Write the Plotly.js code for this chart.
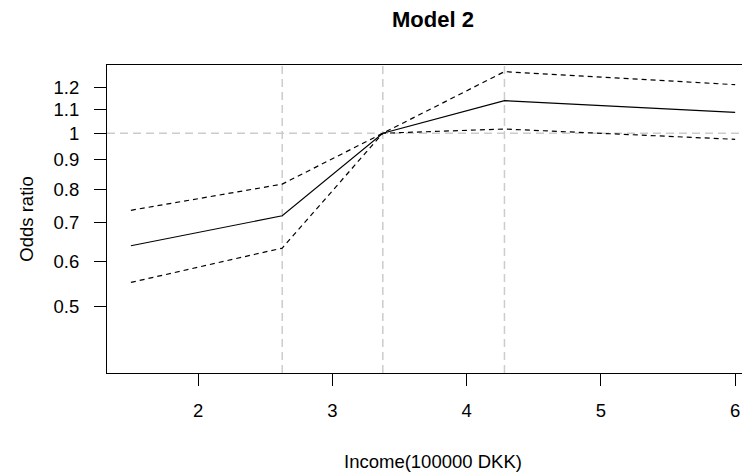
<!DOCTYPE html>
<html>
<head>
<meta charset="utf-8">
<script src="https://cdn.plot.ly/plotly-3.0.1.min.js"></script>
<style>html,body{margin:0;padding:0;background:#fff;}#chart{width:742px;height:474px;}</style>
</head>
<body>
<div id="chart"></div>
<script>
// Income (100000 DKK) at which the curves are evaluated
const income = [1.5, 2.627, 3.376, 4.282, 6.0];
// Odds ratio estimate and 95% confidence limits
const oddsRatio = [0.638, 0.719, 1.0, 1.139, 1.087];
const upperCI   = [0.735, 0.816, 1.0, 1.279, 1.214];
const lowerCI   = [0.551, 0.632, 1.0, 1.017, 0.976];
// Knot positions (vertical reference lines) and reference odds ratio
const knots = [2.627, 3.376, 4.282];
const refOR = 1;
// Tick labels
const xTicks = [2, 3, 4, 5, 6];
const yTicks = [0.5, 0.6, 0.7, 0.8, 0.9, 1, 1.1, 1.2];
const yTickText = ["0.5", "0.6", "0.7", "0.8", "0.9", "1", "1.1", "1.2"];
const xTitle = "Income(100000 DKK)";
const yTitle = "Odds ratio";

const lineDash = "5px,4px";
const traces = [
  {x: income, y: upperCI, mode: "lines", line: {color: "#000", width: 1.2, dash: lineDash}, name: "Upper"},
  {x: income, y: oddsRatio, mode: "lines", line: {color: "#000", width: 1.2}, name: "OR"},
  {x: income, y: lowerCI, mode: "lines", line: {color: "#000", width: 1.2, dash: lineDash}, name: "Lower"}
];

const greyLine = {color: "#cccccc", width: 1.5, dash: "8px,5px"};
const shapes = knots.map(k => ({type: "line", xref: "x", yref: "paper", x0: k, x1: k, y0: 0, y1: 1, line: greyLine, layer: "below"}));
shapes.push({type: "line", xref: "paper", yref: "y", x0: 0, x1: 1, y0: refOR, y1: refOR, line: greyLine, layer: "below"});

const font = {family: "Liberation Sans, Arial, sans-serif", size: 18.5, color: "#000"};
const layout = {
  width: 742, height: 474,
  margin: {l: 107, r: 0, t: 65, b: 101},
  paper_bgcolor: "#fff", plot_bgcolor: "#fff",
  showlegend: false,
  font: font,
  title: {text: "<b>Model 2</b>", font: {family: "Liberation Sans, Arial, sans-serif", size: 22, color: "#000"},
          x: 433/742, xref: "container", xanchor: "center", y: 1 - 19/474, yanchor: "middle"},
  xaxis: {
    range: [1.322, 6.051], tickvals: xTicks, ticktext: xTicks.map(String),
    ticks: "outside", ticklen: 12, tickcolor: "#000", tickwidth: 1,
    showline: true, linecolor: "#000", linewidth: 1, mirror: true,
    showgrid: false, zeroline: false, ticklabelstandoff: 9
  },
  yaxis: {
    type: "log", range: [-0.416, 0.1184], tickvals: yTicks, ticktext: yTickText,
    ticks: "outside", ticklen: 12, tickcolor: "#000", tickwidth: 1,
    showline: true, linecolor: "#000", linewidth: 1, mirror: false,
    showgrid: false, zeroline: false, ticklabelstandoff: 11,
    title: {text: yTitle, font: font, standoff: 15}
  },
  annotations: [{
    text: xTitle, xref: "paper", yref: "paper", x: (433 - 107) / 635, y: -89 / 308,
    xanchor: "center", yanchor: "middle", showarrow: false, font: font
  }],
  shapes: shapes
};
Plotly.newPlot("chart", traces, layout, {displayModeBar: false, staticPlot: true});
</script>
</body>
</html>
